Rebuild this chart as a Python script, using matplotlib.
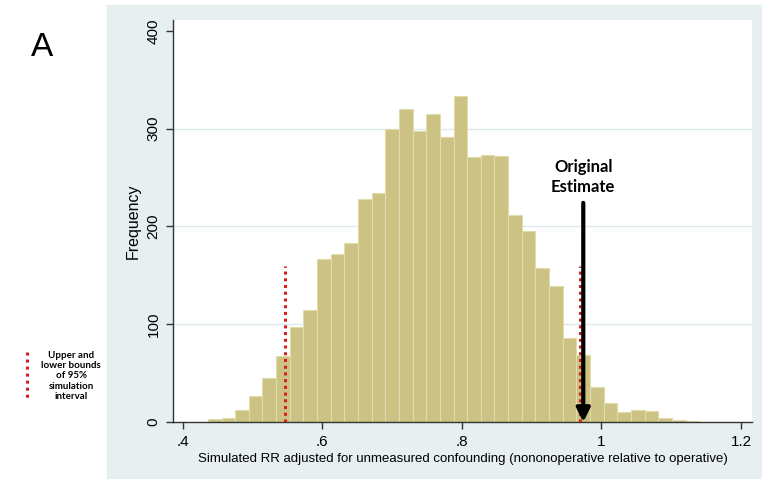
import matplotlib
matplotlib.use("Agg")
import matplotlib.pyplot as plt
import numpy as np
from matplotlib.patches import Rectangle

# histogram counts (36 bins)
counts = [2.7, 4, 12, 27, 45, 67, 97, 114, 167, 172, 183, 228, 234, 300, 320, 298,
          315, 291, 333, 271, 273, 272, 212, 195, 157, 139, 86, 69, 36, 19.5, 10, 12,
          11, 4, 2.4, 1]
bin_start = 0.436
bin_width = 0.01956
bounds_95 = [0.546, 0.969]
bounds_top = 160
original_estimate = 0.974
arrow_top = 224
xticks = [0.4, 0.6, 0.8, 1.0, 1.2]
xtick_labels = [".4", ".6", ".8", "1", "1.2"]
yticks = [0, 100, 200, 300, 400]

plt.rcParams['font.family'] = ['Liberation Sans', 'DejaVu Sans']

W, H = 762, 479
fig = plt.figure(figsize=(W / 100, H / 100), dpi=100)
fig.patch.set_facecolor('white')

# stata style background panel
panel_col = '#e7eff1'
fig.patches.append(Rectangle((107 / W, 0), (W - 107) / W, (H - 5) / H,
                             transform=fig.transFigure, color=panel_col, zorder=-10))

ax = fig.add_axes([173 / W, (H - 422) / H, (752 - 173) / W, (422 - 20) / H])
ax.set_zorder(2)
ax.set_facecolor('white')

left_edges = bin_start + bin_width * np.arange(len(counts))
ax.bar(left_edges, counts, width=bin_width, align='edge', color='#ccc283',
       edgecolor='#e2dcac', linewidth=0.8, zorder=2)

for y in [100, 200, 300]:
    ax.axhline(y, color='#dce9ee', lw=1, zorder=1)

for b in bounds_95:
    ax.plot([b, b], [0, bounds_top], color='#d42020', ls=(0, (1, 1.2)), lw=2.2, zorder=3)

ax.annotate('', xy=(original_estimate, 0), xytext=(original_estimate, arrow_top),
            arrowprops=dict(arrowstyle='-|>', color='black', lw=3, mutation_scale=20,
                            shrinkA=0, shrinkB=0), zorder=4)
ax.text(original_estimate, arrow_top + 8, 'Original\nEstimate', ha='center', va='bottom',
        fontsize=12, fontweight='bold', family=['Lato', 'DejaVu Sans'], linespacing=1.3)

ax.set_xlim(0.386, 1.2158)
ax.set_ylim(0, 411)
ax.set_xticks(xticks)
ax.set_xticklabels(xtick_labels, fontsize=11)
ax.set_yticks(yticks)
ax.set_yticklabels([str(t) for t in yticks], fontsize=11, rotation=90, va='center')
ax.tick_params(axis='both', direction='out', length=5, width=1, color='#333333', pad=4)

for s in ['top', 'right']:
    ax.spines[s].set_visible(False)
for s in ['left', 'bottom']:
    ax.spines[s].set_color('#333333')
    ax.spines[s].set_linewidth(1)

ax.set_xlabel('Simulated RR adjusted for unmeasured confounding (nononoperative relative to operative)',
              fontsize=9.5, labelpad=3)
ax.set_ylabel('Frequency', fontsize=11.5, labelpad=4)

# panel letter and side legend
fig.text(42 / W, 1 - 47 / H, 'A', fontsize=24, ha='center', va='center')
fig.lines.append(plt.Line2D([27 / W, 27 / W], [1 - 352 / H, 1 - 400 / H],
                            transform=fig.transFigure, color='#d42020',
                            ls=(0, (1, 1.3)), lw=2.2))
fig.text(71 / W, 1 - 376 / H, 'Upper and\nlower bounds\nof 95%\nsimulation\ninterval',
         fontsize=7, fontweight='bold', ha='center', va='center',
         family=['Lato', 'DejaVu Sans'], linespacing=1.2)

fig.savefig('out.png', dpi=100, facecolor=fig.get_facecolor())
